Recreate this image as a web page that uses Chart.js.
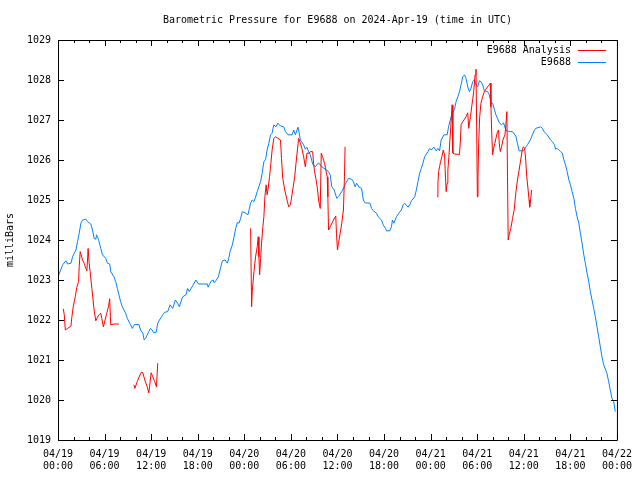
<!DOCTYPE html>
<html>
<head>
<meta charset="utf-8">
<script src="https://cdn.jsdelivr.net/npm/chart.js@4/dist/chart.umd.min.js"></script>
<style>
  html, body { margin: 0; padding: 0; background: #fff; }
  #wrap { width: 640px; height: 480px; }
</style>
</head>
<body>
<div id="wrap"><canvas id="chart" width="640" height="480"></canvas></div>
<script>
'use strict';

const chartTitle = 'Barometric Pressure for E9688 on 2024-Apr-19 (time in UTC)';
const dayLabels = ['04/19','04/19','04/19','04/19','04/20','04/20','04/20','04/20','04/21','04/21','04/21','04/21','04/22'];
const timeLabels = ['00:00','06:00','12:00','18:00','00:00','06:00','12:00','18:00','00:00','06:00','12:00','18:00','00:00'];

// hours since 04/19 00:00 UTC
const stationHours = [0,0.6,1.02,1.24,1.67,1.88,2.09,2.31,2.52,2.73,2.95,3.16,3.59,3.8,4.23,4.45,4.65,4.87,4.96,5.21,5.51,5.73,6.15,6.37,6.66,6.79,7.21,7.43,7.65,7.85,8.07,8.29,8.71,8.93,9.35,9.57,9.86,10.42,10.63,10.93,11.1,11.27,11.7,11.91,12.13,12.3,12.64,12.85,13.07,13.49,13.71,14.13,14.44,14.77,15.12,15.41,15.63,16.05,16.49,16.69,16.91,17.33,17.77,18.1,19.25,19.34,19.47,19.77,19.98,20.11,20.33,20.66,20.97,21.18,21.52,21.82,22.03,22.16,22.46,22.68,22.89,23.1,23.32,23.53,23.74,24.17,24.47,24.81,25.02,25.24,25.45,25.66,26.1,26.3,26.52,26.74,26.94,27.16,27.38,27.58,27.8,28.09,28.31,28.66,29.08,29.3,29.63,30.14,30.36,30.58,30.91,31,31.22,31.64,31.86,32.07,32.28,32.5,32.8,33.14,33.56,33.99,34.42,34.85,35.06,35.27,35.58,35.91,36.13,36.55,36.98,37.41,37.83,38.05,38.27,38.47,38.78,39.11,39.33,39.55,40.19,40.39,40.61,41.03,41.25,41.67,41.89,42.19,42.31,42.75,42.95,43.08,43.26,43.59,43.9,44.23,44.45,44.67,45.09,45.31,45.52,45.95,46.16,46.37,46.59,46.8,47.01,47.23,47.44,47.66,47.87,48.08,48.42,48.72,48.94,49.15,49.36,49.71,50.13,50.31,50.64,50.86,51.08,51.28,51.5,51.72,51.92,52.14,52.36,52.56,52.78,53,53.2,53.42,53.64,53.84,54.06,54.28,54.48,54.7,54.92,55.34,55.56,55.77,55.98,56.2,56.41,56.62,56.84,57.14,57.39,57.69,58.12,58.55,58.76,58.97,59.18,59.4,59.95,60.25,60.47,60.89,61.11,61.33,61.53,62.17,62.39,62.6,63.03,63.45,63.67,63.96,64.09,64.31,64.73,64.95,65.17,65.37,65.59,65.81,66.01,66.23,66.45,66.65,66.87,67.09,67.29,67.51,67.73,67.93,68.15,68.37,68.57,68.79,69.01,69.22,69.43,69.65,69.86,70.07,70.29,70.71,70.93,71.14,71.36,71.58,71.78];
const stationMb = [1023.08,1023.38,1023.48,1023.4,1023.42,1023.58,1023.67,1023.75,1023.96,1024.17,1024.42,1024.5,1024.52,1024.46,1024.4,1024.25,1024.04,1024.02,1024.13,1024.02,1023.79,1023.63,1023.54,1023.42,1023.4,1023.21,1023.08,1022.96,1022.79,1022.63,1022.46,1022.33,1022.17,1022.04,1021.88,1021.79,1021.89,1021.89,1021.75,1021.67,1021.5,1021.54,1021.71,1021.79,1021.75,1021.69,1021.69,1021.92,1022,1022.13,1022.19,1022.21,1022.38,1022.29,1022.5,1022.42,1022.33,1022.58,1022.63,1022.79,1022.71,1022.85,1023,1022.9,1022.9,1022.82,1022.88,1022.98,1023,1022.93,1022.98,1023.08,1023.33,1023.48,1023.5,1023.42,1023.57,1023.71,1023.88,1024.08,1024.29,1024.44,1024.42,1024.54,1024.71,1024.67,1024.63,1024.92,1025,1024.96,1025.07,1025.21,1025.46,1025.67,1025.96,1026.02,1026.25,1026.42,1026.63,1026.67,1026.88,1026.83,1026.92,1026.85,1026.83,1026.71,1026.63,1026.63,1026.75,1026.63,1026.82,1026.75,1026.5,1026.38,1026.27,1026.32,1026.21,1026.13,1025.9,1025.83,1025.93,1025.83,1025.77,1025.71,1025.63,1025.33,1025.25,1025.04,1025.08,1025.21,1025.38,1025.54,1025.52,1025.46,1025.33,1025.42,1025.32,1025.29,1025,1024.93,1024.92,1024.79,1024.73,1024.67,1024.58,1024.5,1024.38,1024.29,1024.23,1024.23,1024.33,1024.5,1024.42,1024.58,1024.67,1024.75,1024.88,1024.92,1024.82,1024.88,1024.98,1025.08,1025.25,1025.46,1025.67,1025.79,1025.92,1026.08,1026.15,1026.21,1026.29,1026.25,1026.32,1026.23,1026.29,1026.23,1026.5,1026.63,1026.63,1026.83,1027.08,1027.17,1027.27,1027.46,1027.58,1027.71,1027.88,1028.08,1028.13,1028.04,1027.83,1027.71,1027.79,1027.96,1028,1027.88,1027.83,1027.98,1027.96,1027.88,1027.73,1027.71,1027.63,1027.43,1027.42,1027.27,1027.13,1027.04,1026.93,1026.88,1026.93,1026.75,1026.71,1026.71,1026.65,1026.6,1026.42,1026.23,1026.23,1026.32,1026.38,1026.52,1026.63,1026.73,1026.79,1026.83,1026.79,1026.71,1026.63,1026.5,1026.46,1026.38,1026.27,1026.29,1026.21,1026.18,1026,1025.88,1025.71,1025.5,1025.38,1025.21,1025.04,1024.79,1024.58,1024.42,1024.17,1023.92,1023.63,1023.42,1023.17,1022.96,1022.71,1022.5,1022.29,1022.08,1021.83,1021.58,1021.33,1021.08,1020.88,1020.67,1020.46,1020.25,1020.04,1019.96,1019.71];

// analysis values, null marks a break between runs
const analysisHours = [0.68,0.81,0.94,1.24,1.67,1.79,1.96,2.22,2.43,2.65,2.73,2.86,2.98,3.16,3.37,3.59,3.72,3.8,3.88,4.01,4.14,4.36,4.52,4.65,4.87,5.09,5.29,5.51,5.64,5.85,6.06,6.28,6.5,6.66,6.79,7.21,7.85,
  8.8,
  9.77,9.9,10.21,10.5,10.76,10.93,11.18,11.49,11.7,12,12.21,12.46,12.68,12.85,
  18,
  24.81,24.94,25.02,25.24,25.45,25.66,25.79,25.88,25.97,26.1,26.22,26.39,26.52,26.65,26.81,26.94,27.07,27.25,27.42,27.58,27.8,28.02,28.35,28.66,28.79,28.95,29.21,29.5,29.72,29.94,30.14,30.49,30.66,30.84,31,31.22,31.42,31.64,31.86,32.07,32.37,32.5,32.8,32.92,33.05,33.22,33.44,33.56,33.78,33.91,34.08,34.33,34.5,34.68,34.76,34.85,35.06,35.49,35.78,35.87,36,36.13,36.35,36.55,36.77,36.9,36.98,
  42,
  48.85,48.94,49.03,49.15,49.28,49.45,49.62,49.8,49.87,50,50.13,50.22,50.35,50.47,50.64,50.77,50.86,51.08,51.72,51.84,51.92,52.14,52.36,52.56,52.78,52.91,53,53.13,53.29,53.42,53.55,53.72,53.84,53.93,54.02,54.1,54.19,54.32,54.48,54.7,54.92,55.12,55.34,55.56,55.69,55.77,55.86,55.98,56.11,56.28,56.41,56.62,56.75,56.84,56.97,57.14,57.31,57.57,57.69,57.82,57.9,57.99,58.12,58.33,58.55,58.76,58.97,59.18,59.4,59.6,59.82,59.95,60.12,60.25,60.38,60.56,60.68,60.76,60.89,61.02];
const analysisMb = [1022.28,1022.13,1021.75,1021.79,1021.85,1022.08,1022.33,1022.58,1022.82,1022.96,1023.33,1023.71,1023.63,1023.5,1023.42,1023.29,1023.23,1023.5,1023.79,1023.42,1023.21,1022.79,1022.5,1022.25,1021.98,1022.07,1022.13,1022.17,1022.04,1021.83,1022,1022.17,1022.33,1022.53,1021.88,1021.9,1021.9,
  null,
  1020.38,1020.29,1020.46,1020.6,1020.7,1020.68,1020.5,1020.33,1020.18,1020.68,1020.58,1020.46,1020.33,1020.92,
  null,
  1024.29,1022.33,1022.71,1023.21,1023.58,1023.83,1024.08,1023.58,1023.13,1023.54,1023.92,1024.33,1024.58,1025.08,1025.38,1025.13,1025.29,1025.58,1025.92,1026.25,1026.54,1026.58,1026.54,1026.5,1026.04,1025.54,1025.25,1025,1024.83,1024.88,1025.13,1025.58,1025.92,1026.25,1026.54,1026.42,1026.29,1026.08,1025.83,1026.17,1026.17,1026.21,1026.21,1025.92,1025.71,1025.54,1025.25,1025,1024.79,1026.17,1026.08,1025.92,1025.75,1025.58,1025.08,1024.25,1024.33,1024.5,1024.6,1024.17,1023.75,1023.92,1024.17,1024.42,1024.75,1025.58,1026.33,
  null,
  1025.08,1025.42,1025.71,1025.83,1025.96,1026.08,1026.25,1026.13,1025.75,1025.21,1025.42,1025.75,1026.08,1026.46,1026.96,1027.38,1026.17,1026.15,1026.14,1026.5,1026.88,1026.96,1027.02,1027.08,1027.18,1026.79,1026.92,1027.08,1027.33,1027.52,1027.71,1028.13,1028.27,1026.83,1025.08,1025.58,1026.42,1027.08,1027.42,1027.58,1027.71,1027.77,1027.83,1027.88,1027.92,1027.33,1026.75,1026.13,1026.29,1026.42,1026.54,1026.71,1026.75,1026.42,1026.21,1026.33,1026.5,1026.63,1026.88,1027.21,1025.58,1024,1024.13,1024.29,1024.54,1024.75,1025.17,1025.5,1025.75,1026,1026.27,1026.33,1026.29,1026,1025.58,1025.25,1025,1024.82,1025.04,1025.25];

const FONT = '"DejaVu Sans Mono", "Liberation Mono", monospace';

function pairs(xs, ys) {
  return xs.map((h, i) => ({x: h, y: ys[i]}));
}

// gnuplot style frame: box, inward ticks on all sides, title, key
const frame = {
  id: 'frame',
  afterDraw(chart) {
    const {ctx, chartArea: a, scales} = chart;
    const x = scales.x, y = scales.y;
    ctx.save();
    ctx.strokeStyle = '#000';
    ctx.lineWidth = 1;
    ctx.beginPath();
    ctx.rect(a.left + 0.5, a.top + 0.5, a.right - a.left, a.bottom - a.top);
    x.ticks.forEach(t => {
      const px = Math.round(x.getPixelForValue(t.value)) + 0.5;
      const len = t.value % 6 === 0 ? 6 : 3;
      ctx.moveTo(px, a.bottom); ctx.lineTo(px, a.bottom - len);
      ctx.moveTo(px, a.top); ctx.lineTo(px, a.top + len);
    });
    y.ticks.forEach(t => {
      const py = Math.round(y.getPixelForValue(t.value)) + 0.5;
      ctx.moveTo(a.left, py); ctx.lineTo(a.left + 6, py);
      ctx.moveTo(a.right, py); ctx.lineTo(a.right - 6, py);
    });
    ctx.stroke();

    ctx.fillStyle = '#000';
    ctx.font = '10px ' + FONT;
    ctx.textBaseline = 'middle';
    ctx.textAlign = 'center';
    ctx.fillText(chartTitle, (a.left + a.right) / 2, 20);

    ctx.textAlign = 'right';
    chart.data.datasets.forEach((ds, i) => {
      const ry = a.top + 10 + i * 12;
      ctx.fillStyle = '#000';
      ctx.fillText(ds.label, a.right - 46, ry);
      ctx.strokeStyle = ds.borderColor;
      ctx.beginPath();
      ctx.moveTo(a.right - 39, Math.round(ry) + 0.5);
      ctx.lineTo(a.right - 11, Math.round(ry) + 0.5);
      ctx.stroke();
    });
    ctx.restore();
  }
};

const ctx = document.getElementById('chart').getContext('2d');
new Chart(ctx, {
  type: 'line',
  data: {
    datasets: [
      {label: 'E9688 Analysis', data: pairs(analysisHours, analysisMb), borderColor: '#ff0000', borderWidth: 1, pointRadius: 0, spanGaps: false, tension: 0},
      {label: 'E9688', data: pairs(stationHours, stationMb), borderColor: '#0080ff', borderWidth: 1, pointRadius: 0, tension: 0}
    ]
  },
  options: {
    responsive: false,
    animation: false,
    layout: {padding: {top: 40, right: 20, left: 0, bottom: 0}},
    plugins: {legend: {display: false}, tooltip: {enabled: false}, title: {display: false}},
    scales: {
      x: {
        type: 'linear', min: 0, max: 72,
        grid: {display: false, drawTicks: false},
        border: {display: false},
        ticks: {
          stepSize: 2, autoSkip: false, maxRotation: 0, padding: 8,
          color: '#000', font: {family: FONT, size: 10},
          callback: v => v % 6 === 0 ? [dayLabels[v / 6], timeLabels[v / 6]] : ''
        },
        afterFit: s => { s.height = 40; }
      },
      y: {
        min: 1019, max: 1029,
        grid: {display: false, drawTicks: false},
        border: {display: false},
        ticks: {stepSize: 1, padding: 7, color: '#000', font: {family: FONT, size: 10}, callback: v => String(v)},
        title: {display: true, text: 'milliBars', color: '#000', font: {family: FONT, size: 10}, padding: {top: 4, bottom: 0}},
        afterFit: s => { s.width = 58; }
      }
    }
  },
  plugins: [frame]
});
</script>
</body>
</html>
